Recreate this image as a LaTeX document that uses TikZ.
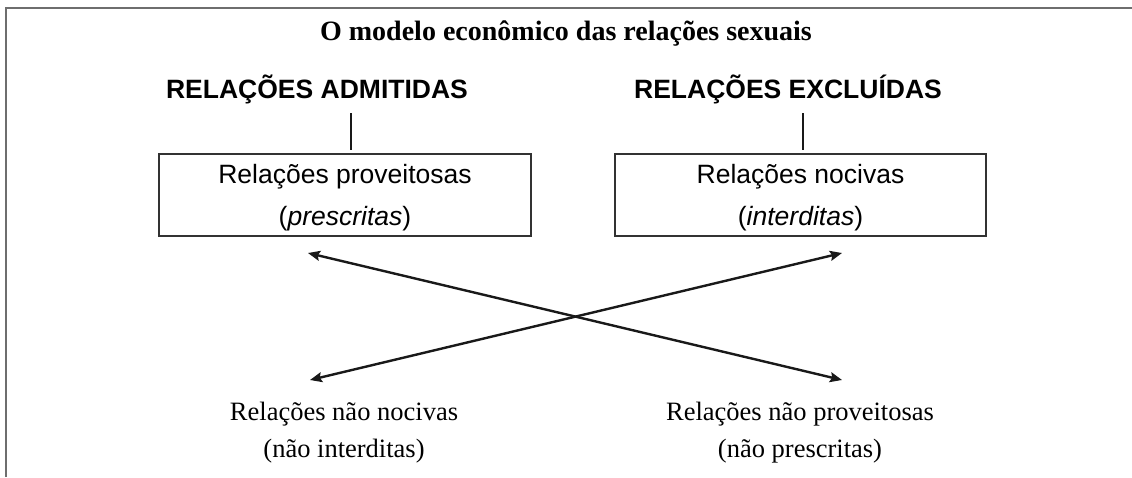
\documentclass[tikz,border=0pt]{standalone}
\usepackage{fontspec}
\usetikzlibrary{arrows.meta}
\newfontfamily\serifX{Liberation Serif}
\newfontfamily\sansX{Liberation Sans}
\definecolor{framegray}{RGB}{110,110,110}
\definecolor{boxgray}{RGB}{50,50,50}
\definecolor{ink}{RGB}{25,25,25}
\begin{document}
\begin{tikzpicture}[x=1pt,y=-1pt,
  titletext/.style={font=\serifX\bfseries\fontsize{28}{32}\selectfont, anchor=base, inner sep=0pt},
  headtext/.style={font=\sansX\bfseries\fontsize{26.5}{32}\selectfont, anchor=base, inner sep=0pt},
  boxtext/.style={font=\sansX\fontsize{26.5}{32}\selectfont, anchor=base, inner sep=0pt},
  lowtext/.style={font=\serifX\fontsize{26.5}{32}\selectfont, anchor=base, inner sep=0pt},
  relbox/.style={draw=boxgray, line width=1.4pt, minimum height=82pt, inner sep=0pt},
  stem/.style={draw=ink, line width=2.2pt},
  dblarrow/.style={draw=ink, line width=2.4pt, {Stealth[length=12pt,width=10pt,inset=2pt]}-{Stealth[length=12pt,width=10pt,inset=2pt]}}
]
\useasboundingbox (0,0) rectangle (1132,477);
% frame
\draw[framegray, line width=2pt] (6,477) -- (6,8) -- (1132,8);
% title
\node[titletext] (title) at (566,40) {O modelo econômico das relações sexuais};
% headings
\node[headtext] (hA) at (317,98) {RELAÇÕES ADMITIDAS};
\node[headtext] (hE) at (788,98) {RELAÇÕES EXCLUÍDAS};
% boxes
\node[relbox, minimum width=372pt] (bA) at (345,195) {};
\node[relbox, minimum width=371pt] (bE) at (800.5,195) {};
\node[boxtext] (bA1) at (345,183) {Relações proveitosas};
\node[boxtext] (bA2) at (345,225) {(\textit{prescritas})};
\node[boxtext] (bE1) at (800.5,183) {Relações nocivas};
\node[boxtext] (bE2) at (800.5,225) {(\textit{interditas})};
% stems
\coordinate (sA1) at (351,113);
\coordinate (sA2) at (351,150);
\coordinate (sE1) at (803,113);
\coordinate (sE2) at (803,150);
\draw[stem] (sA1) -- (sA2);
\draw[stem] (sE1) -- (sE2);
% lower texts
\node[lowtext] (nN1) at (344,420) {Relações não nocivas};
\node[lowtext] (nN2) at (344,457) {(não interditas)};
\node[lowtext] (nP1) at (800,420) {Relações não proveitosas};
\node[lowtext] (nP2) at (800,457) {(não prescritas)};
% crossing arrows
\coordinate (xa1) at (308,253);
\coordinate (xa2) at (842,380);
\coordinate (xb1) at (842,253);
\coordinate (xb2) at (310,380);
\draw[dblarrow] (xa1) -- (xa2);
\draw[dblarrow] (xb1) -- (xb2);
\end{tikzpicture}
\end{document}
